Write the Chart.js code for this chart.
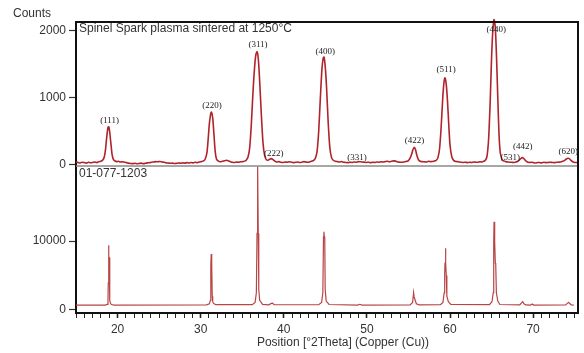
<!DOCTYPE html>
<html><head><meta charset="utf-8">
<script src="https://cdn.jsdelivr.net/npm/chart.js@4.4.1/dist/chart.umd.min.js"></script>
<style>html,body{margin:0;padding:0;background:#fff}#wrap{width:584px;height:353px;position:relative}</style>
</head><body><div id="wrap"><canvas id="c" width="584" height="353"></canvas></div>
<script>
// ---- measured sample pattern (top panel) ----
const sampleX = [15.0,15.25,15.5,15.75,16.0,16.25,16.5,16.75,17.0,17.25,17.5,17.75,18.0,18.2,18.4,18.55,18.7,18.85,18.95,19.05,19.2,19.35,19.5,19.7,19.9,20.1,20.35,20.6,20.85,21.1,21.35,21.6,21.85,22.1,22.35,22.6,22.85,23.1,23.35,23.6,23.85,24.1,24.35,24.6,24.85,25.1,25.35,25.6,25.85,26.1,26.35,26.6,26.85,27.1,27.35,27.6,27.85,28.1,28.35,28.6,28.85,29.1,29.35,29.6,29.85,30.1,30.35,30.55,30.75,30.9,31.05,31.2,31.3,31.45,31.6,31.75,31.9,32.1,32.35,32.6,32.85,33.1,33.3,33.55,33.8,34.05,34.3,34.55,34.8,35.05,35.3,35.5,35.7,35.9,36.1,36.3,36.5,36.65,36.8,36.95,37.1,37.3,37.5,37.7,37.9,38.1,38.3,38.5,38.7,38.9,39.15,39.4,39.65,39.9,40.15,40.4,40.65,40.9,41.15,41.4,41.65,41.9,42.15,42.4,42.65,42.9,43.15,43.4,43.6,43.8,44.0,44.2,44.4,44.6,44.75,44.85,45.0,45.15,45.35,45.55,45.75,45.95,46.2,46.45,46.7,46.95,47.2,47.45,47.7,47.95,48.2,48.45,48.7,48.95,49.2,49.45,49.7,49.95,50.2,50.45,50.7,50.95,51.2,51.45,51.7,51.95,52.2,52.45,52.7,52.95,53.2,53.45,53.7,53.95,54.2,54.45,54.7,54.95,55.15,55.35,55.55,55.7,55.85,56.0,56.2,56.4,56.65,56.9,57.15,57.4,57.65,57.9,58.15,58.35,58.55,58.75,58.95,59.15,59.3,59.4,59.55,59.7,59.85,60.0,60.2,60.4,60.6,60.85,61.1,61.35,61.6,61.85,62.1,62.35,62.6,62.85,63.1,63.35,63.6,63.85,64.05,64.25,64.45,64.65,64.85,65.0,65.15,65.3,65.45,65.6,65.75,65.9,66.05,66.25,66.45,66.7,66.95,67.2,67.45,67.7,67.95,68.15,68.35,68.55,68.7,68.85,69.05,69.3,69.55,69.8,70.05,70.3,70.55,70.8,71.05,71.3,71.55,71.8,72.05,72.3,72.55,72.8,73.05,73.3,73.55,73.8,74.0,74.2,74.35,74.55,74.75,74.9,75.05,75.3];
const sampleCounts = [45,38,30,42,35,28,40,33,38,45,36,50,55,70,120,230,420,560,570,500,320,150,85,60,50,55,45,48,40,35,28,22,20,25,18,22,28,20,25,32,35,42,45,50,48,52,45,40,32,30,25,28,22,25,30,26,32,28,35,30,38,32,40,35,45,50,60,90,180,380,620,760,790,700,450,200,90,60,48,55,62,70,65,52,40,38,45,40,48,50,58,75,120,260,620,1100,1480,1650,1690,1560,1250,750,330,140,80,70,85,95,80,60,45,50,42,38,45,40,48,42,35,40,45,38,42,50,45,40,50,58,70,100,200,500,1000,1450,1600,1610,1450,1150,620,250,110,70,55,50,45,52,40,38,35,42,38,45,42,50,48,45,40,38,42,35,40,38,45,42,48,45,50,55,48,55,62,58,45,42,40,45,52,60,90,150,230,265,230,150,80,55,50,48,45,55,50,52,60,70,110,250,600,1050,1260,1300,1200,950,600,300,130,75,55,50,45,40,38,42,36,40,38,45,42,40,48,45,55,70,130,400,1000,1600,2000,2170,2050,1600,1000,450,180,90,60,50,45,42,40,38,45,55,75,100,110,100,70,45,38,40,35,30,38,35,32,40,35,38,42,38,35,40,42,45,55,70,90,100,95,70,48,40,38,38];

// ---- reference pattern 01-077-1203 (bottom panel) ----
const refX = [15.0,18.5,18.75,18.85,18.88,18.92,18.96,19.0,19.04,19.08,19.14,19.25,19.6,30.7,31.05,31.17,31.22,31.27,31.31,31.35,31.39,31.45,31.55,31.8,36.2,36.55,36.7,36.78,36.83,36.88,36.93,36.99,37.1,37.45,38.2,38.5,38.65,38.85,44.2,44.55,44.7,44.78,44.83,44.88,44.93,44.98,45.1,45.45,48.9,49.15,49.4,55.2,55.5,55.62,55.68,55.76,55.84,55.95,56.3,58.85,59.15,59.3,59.36,59.4,59.45,59.5,59.55,59.62,59.8,60.1,64.75,65.05,65.2,65.26,65.3,65.35,65.4,65.45,65.5,65.58,65.75,66.0,68.4,68.65,68.75,68.9,69.1,69.7,69.9,70.05,73.9,74.15,74.25,74.4,74.6,74.9];
const refCounts = [700,720,820,1500,3900,9400,7700,7600,2600,1400,1000,800,720,740,900,1400,6500,8100,6400,6400,2000,1200,950,780,780,1100,2500,11100,20800,20800,11100,3000,1400,820,750,950,980,780,760,1100,2500,10600,11350,10600,10500,3000,1300,800,720,830,720,740,1100,2500,1900,1900,1300,900,740,760,1100,2500,5100,6800,8950,6800,5000,2000,1200,800,780,1200,2500,9900,12800,9900,9800,6800,6700,2500,1300,800,740,1100,1210,900,740,720,870,720,740,1000,1110,950,750,720];

// ---- ticks and labels ----
const topTicks = [0, 1000, 2000];
const bottomTicks = [0, 10000];
const xMinorTicks = [15,16,17,18,19,20,21,22,23,24,25,26,27,28,29,30,31,32,33,34,35,36,37,38,39,40,41,42,43,44,45,46,47,48,49,50,51,52,53,54,55,56,57,58,59,60,61,62,63,64,65,66,67,68,69,70,71,72,73,74,75];
const xTickLabels = [20, 30, 40, 50, 60, 70];
const peakLabels = ['(111)','(220)','(311)','(222)','(400)','(331)','(422)','(511)','(440)','(531)','(442)','(620)'];
const peakLabelX = [19.04, 31.35, 36.9, 38.8, 45.0, 48.8, 55.73, 59.54, 65.55, 67.24, 68.76, 74.24];
const peakLabelY = [660, 880, 1790, 175, 1690, 115, 363, 1430, 2026, 115, 273, 199];

const SANS = "'Liberation Sans', Arial, sans-serif";
const SERIF = "'Liberation Serif', 'Times New Roman', serif";

const deco = {
  id: 'deco',
  afterDraw(chart) {
    const ctx = chart.ctx, a = chart.chartArea;
    const x = chart.scales.x, yT = chart.scales.yTop, yB = chart.scales.yBot;
    ctx.save();
    ctx.strokeStyle = '#8a8a8a'; ctx.lineWidth = 1.5;
    ctx.beginPath(); ctx.moveTo(a.left, yT.bottom); ctx.lineTo(a.right, yT.bottom); ctx.stroke();
    ctx.strokeStyle = '#111'; ctx.lineWidth = 2;
    ctx.beginPath(); ctx.moveTo(a.left, a.top); ctx.lineTo(a.right, a.top); ctx.lineTo(a.right, a.bottom); ctx.stroke();
    ctx.fillStyle = '#333'; ctx.font = '12px ' + SANS; ctx.textBaseline = 'middle'; ctx.textAlign = 'left';
    ctx.fillText('Counts', 13, 14);
    ctx.fillText('Spinel Spark plasma sintered at 1250°C', a.left + 3, yT.top + 7);
    ctx.fillText('01-077-1203', a.left + 3, yB.top + 8);
    ctx.textAlign = 'center';
    ctx.fillText('Position [°2Theta] (Copper (Cu))', 343, 343);
    ctx.fillStyle = '#222'; ctx.font = '9px ' + SERIF;
    peakLabels.forEach((t, i) => {
      ctx.fillText(t, x.getPixelForValue(peakLabelX[i]), yT.getPixelForValue(peakLabelY[i]));
    });
    ctx.restore();
  }
};

const tickFont = { family: SANS, size: 12 };

new Chart(document.getElementById('c'), {
  type: 'line',
  data: {
    datasets: [
      { label: 'sample', data: sampleX.map((v, i) => ({ x: v, y: sampleCounts[i] })), xAxisID: 'x', yAxisID: 'yTop',
        borderColor: '#b0232b', borderWidth: 1.6, pointRadius: 0, tension: 0.25, clip: 6 },
      { label: 'reference', data: refX.map((v, i) => ({ x: v, y: refCounts[i] })), xAxisID: 'x', yAxisID: 'yBot',
        borderColor: '#b84444', borderWidth: 1.2, pointRadius: 0, tension: 0 }
    ]
  },
  options: {
    responsive: false, animation: false,
    layout: { padding: { left: 0, right: 6, top: 22, bottom: 0 } },
    plugins: { legend: { display: false }, tooltip: { enabled: false }, title: { display: false } },
    scales: {
      x: {
        type: 'linear', position: 'bottom', min: 15, max: 75.4,
        afterBuildTicks: s => { s.ticks = xMinorTicks.map(v => ({ value: v })); },
        afterFit: s => { s.height = 40; },
        ticks: { autoSkip: false, maxRotation: 0, padding: 4, color: '#333', font: tickFont,
          callback: v => xTickLabels.includes(v) ? String(v) : '' },
        grid: { drawOnChartArea: false, drawTicks: true, tickLength: 5, tickColor: '#222',
          tickWidth: c => (c.tick && xTickLabels.includes(c.tick.value)) ? 1.6 : 1 },
        border: { color: '#111', width: 2 }
      },
      yBot: {
        type: 'linear', position: 'left', stack: 'panels', stackWeight: 147, min: -435, max: 20870,
        afterBuildTicks: s => { s.ticks = bottomTicks.map(v => ({ value: v })); },
        afterFit: s => { s.width = 76; },
        ticks: { color: '#333', font: tickFont, padding: 3, callback: v => String(v) },
        grid: { drawOnChartArea: false, tickLength: 7, tickColor: '#333', tickWidth: 1.2 },
        border: { color: '#111', width: 2 }
      },
      yTop: {
        type: 'linear', position: 'left', stack: 'panels', stackWeight: 144, min: -15, max: 2134,
        afterBuildTicks: s => { s.ticks = topTicks.map(v => ({ value: v })); },
        afterFit: s => { s.width = 76; },
        ticks: { color: '#333', font: tickFont, padding: 3, callback: v => String(v) },
        grid: { drawOnChartArea: false, tickLength: 7, tickColor: '#333', tickWidth: 1.2 },
        border: { color: '#111', width: 2 }
      }
    }
  },
  plugins: [deco]
});
</script>
</body></html>
